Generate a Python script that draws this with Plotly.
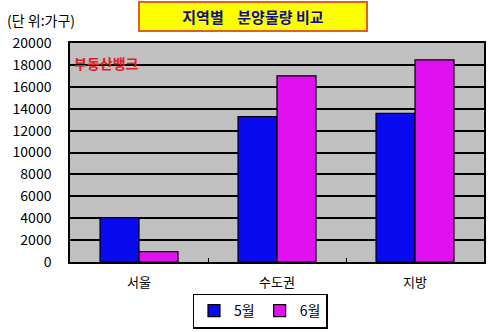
import plotly.graph_objects as go

categories = ["서울", "수도권", "지방"]
may_values = [4050, 13270, 13580]
june_values = [950, 17000, 18450]
series_names = ["5월", "6월"]
y_ticks = list(range(0, 20001, 2000))

FONT = "Noto Sans CJK KR, DejaVu Sans, sans-serif"

fig = go.Figure()
fig.add_trace(go.Bar(x=categories, y=may_values, name=series_names[0],
                     marker=dict(color="#0a0af0", line=dict(color="black", width=1.2))))
fig.add_trace(go.Bar(x=categories, y=june_values, name=series_names[1],
                     marker=dict(color="#e010f0", line=dict(color="black", width=1.2))))

fig.update_layout(
    width=500, height=332,
    margin=dict(l=70, r=16, t=43, b=70, autoexpand=False),
    paper_bgcolor="white",
    plot_bgcolor="#c0c0c0",
    barmode="group",
    bargap=0.435,
    bargroupgap=0,
    font=dict(family=FONT, size=13, color="black"),
    showlegend=True,
    legend=dict(orientation="h", x=0.52, xanchor="center", xref="container",
                y=0.063, yanchor="middle", yref="container",
                bordercolor="black", borderwidth=1.5, bgcolor="white",
                font=dict(size=14), itemwidth=30, traceorder="normal"),
    xaxis=dict(showline=True, linecolor="black", linewidth=1.5, mirror=True,
               ticks="inside", ticklen=4, tickcolor="black", tickson="boundaries",
               tickfont=dict(size=13), showgrid=False, ticklabelstandoff=8),
    yaxis=dict(range=[0, 20000], tickvals=y_ticks, tickformat="d", showline=True,
               linecolor="black", linewidth=1.5, mirror=True, showgrid=True,
               gridcolor="black", gridwidth=1.5, ticks="", tickfont=dict(size=14),
               zeroline=False, ticklabelstandoff=14),
    annotations=[
        dict(text="<b>지역별    분양물량 비교</b>", xref="paper", yref="paper",
             x=0.442, y=1.119, xanchor="center", yanchor="middle", showarrow=False,
             font=dict(size=15, color="#101080", family=FONT),
             bgcolor="#ffff00", bordercolor="#e06020", borderwidth=2,
             borderpad=3, width=220),
        dict(text="(단 위:가구)", xref="paper", yref="paper", x=-0.157, y=1.105,
             xanchor="left", yanchor="middle", showarrow=False,
             font=dict(size=14, color="black", family=FONT)),
        dict(text="<b>부동산뱅크</b>", xref="paper", yref="paper", x=0.005, y=0.91,
             xanchor="left", yanchor="middle", showarrow=False,
             font=dict(size=14, color="#e02020", family=FONT)),
    ],
)

fig.write_html("out.html")
